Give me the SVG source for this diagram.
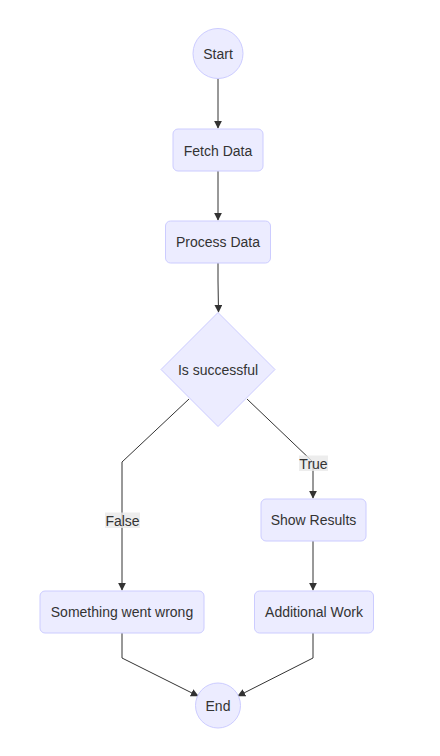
<svg xmlns="http://www.w3.org/2000/svg" width="440" height="756" viewBox="0 0 440 756">
<style>
.node{fill:#ECECFF;stroke:#CCCCFF;stroke-width:1}
.lbl{font-family:"Liberation Sans",Arial,sans-serif;font-size:14px;fill:#333;text-anchor:middle;dominant-baseline:central}
.edge{fill:none;stroke:#333;stroke-width:1}
.elbg{fill:#E8E8E8;opacity:0.8}
</style>
<defs>
<marker id="arr" viewBox="0 0 10 10" refX="9" refY="5" markerWidth="8" markerHeight="8" markerUnits="userSpaceOnUse" orient="auto">
<path d="M0,0 L10,5 L0,10 z" fill="#333"/>
</marker>
</defs>
<rect width="440" height="756" fill="#fff"/>
<g id="edges">
<path class="edge" d="M218,79 L218,128" marker-end="url(#arr)"/>
<path class="edge" d="M218,171 L218,220" marker-end="url(#arr)"/>
<path class="edge" d="M218,263 L218,281 L218.5,312" marker-end="url(#arr)"/>
<path class="edge" d="M189,399 L122,462 L122,590" marker-end="url(#arr)"/>
<path class="edge" d="M247,399 L313,462 L313,498" marker-end="url(#arr)"/>
<path class="edge" d="M313,541 L313,590" marker-end="url(#arr)"/>
<path class="edge" d="M122,633 L122,658 L198,696" marker-end="url(#arr)"/>
<path class="edge" d="M313,633 L313,658 L238,696" marker-end="url(#arr)"/>
<g id="label-true">
<rect class="elbg" x="299" y="455.5" width="29" height="15.5"/>
<text class="lbl" x="313.5" y="463.5">True</text>
</g>
<g id="label-false">
<rect class="elbg" x="105" y="512.5" width="35" height="15.5"/>
<text class="lbl" x="122.5" y="520.5">False</text>
</g>
</g>
<g id="start">
<circle class="node" cx="218" cy="53.5" r="25"/>
<text class="lbl" x="218" y="54">Start</text>
</g>
<g id="fetch">
<rect class="node" x="173" y="129" width="90" height="42" rx="5"/>
<text class="lbl" x="218" y="150.5">Fetch Data</text>
</g>
<g id="process">
<rect class="node" x="165.5" y="221" width="105" height="42" rx="5"/>
<text class="lbl" x="218" y="242">Process Data</text>
</g>
<g id="decision">
<polygon class="node" points="218,312.5 275,369.5 218,426.5 161,369.5"/>
<text class="lbl" x="218" y="370">Is successful</text>
</g>
<g id="show">
<rect class="node" x="261" y="499" width="105" height="42" rx="5"/>
<text class="lbl" x="313.5" y="520">Show Results</text>
</g>
<g id="wrong">
<rect class="node" x="40" y="591" width="164" height="42" rx="5"/>
<text class="lbl" x="122" y="612">Something went wrong</text>
</g>
<g id="additional">
<rect class="node" x="254.5" y="591" width="119" height="42" rx="5"/>
<text class="lbl" x="314" y="612">Additional Work</text>
</g>
<g id="end">
<circle class="node" cx="218" cy="705.5" r="22.5"/>
<text class="lbl" x="218" y="706">End</text>
</g>
</svg>
